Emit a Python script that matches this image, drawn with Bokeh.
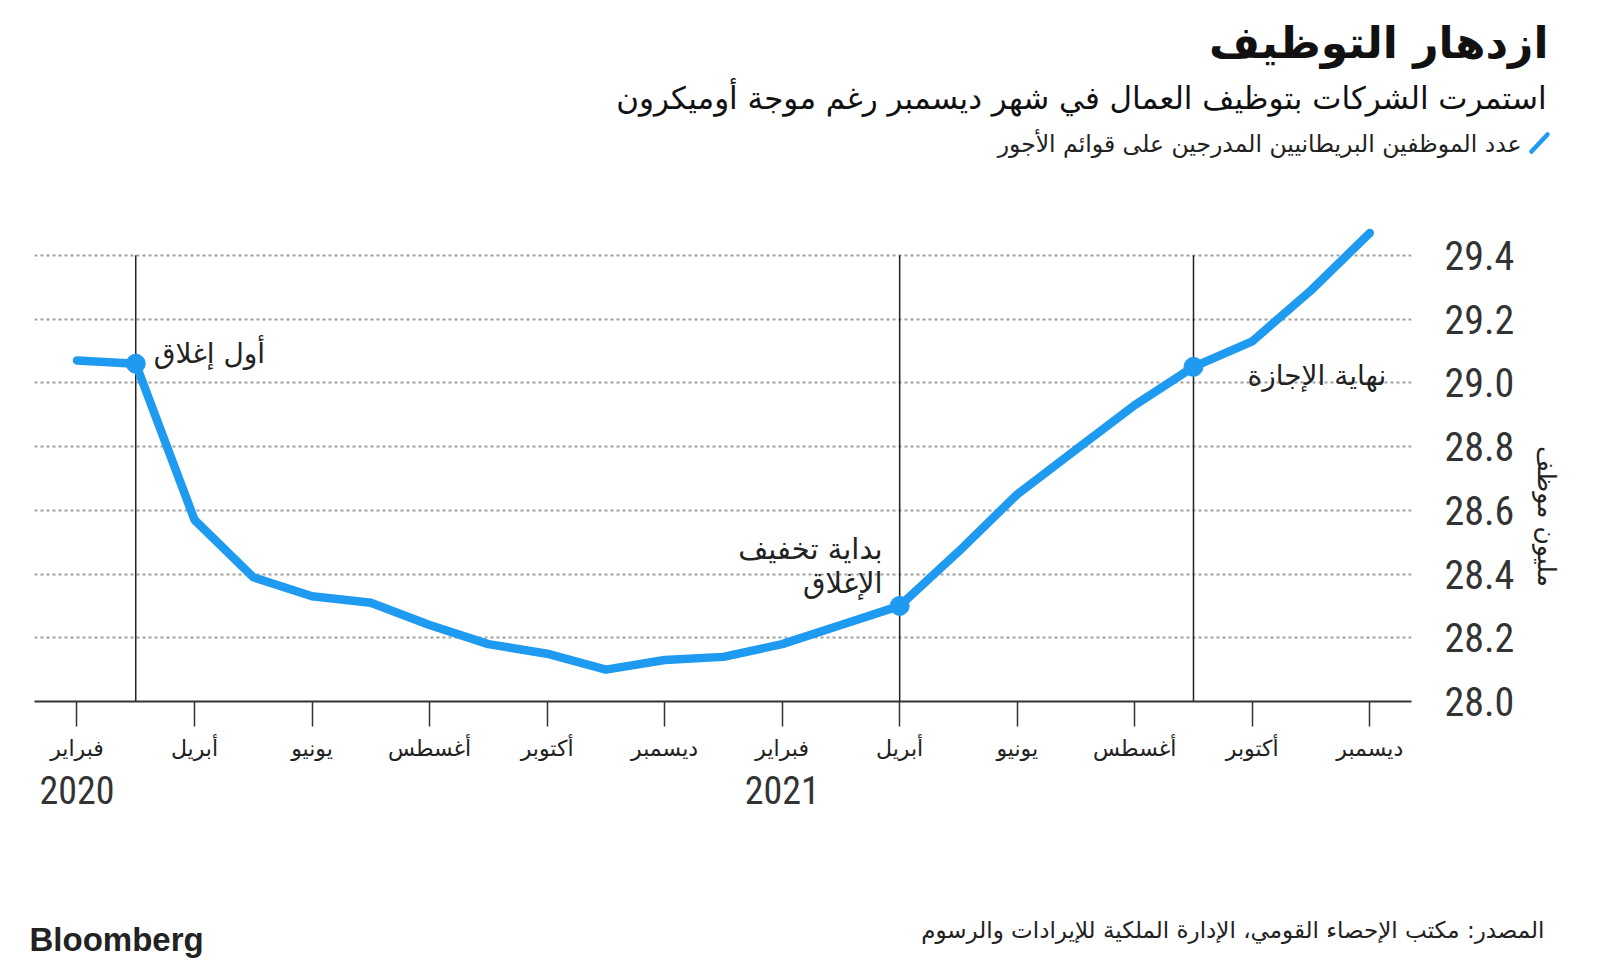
import math
from bokeh.plotting import figure
from bokeh.models import Range1d, FixedTicker, LinearAxis, Label
from bokeh.layouts import column, row
from bokeh.embed import file_html
from bokeh.resources import INLINE

# ---------------- data ----------------
month_names = ["فبراير", "أبريل", "يونيو", "أغسطس", "أكتوبر", "ديسمبر"]
tick_idx = list(range(0, 23, 2))
tick_labels = month_names * 2
year_idx = [0, 12]
year_labels = ["2020", "2021"]
employees = [29.07, 29.06, 28.57, 28.39, 28.33, 28.31, 28.24, 28.18, 28.15, 28.10, 28.13, 28.14,
             28.18, 28.24, 28.30, 28.47, 28.65, 28.79, 28.93, 29.05, 29.13, 29.29, 29.47]
month_idx = list(range(len(employees)))
event_idx = [1, 14, 19]
y_ticks = [28.0, 28.2, 28.4, 28.6, 28.8, 29.0, 29.2, 29.4]
y_tick_labels = ["28.0", "28.2", "28.4", "28.6", "28.8", "29.0", "29.2", "29.4"]

title = "ازدهار التوظيف"
subtitle = "استمرت الشركات بتوظيف العمال في شهر ديسمبر رغم موجة أوميكرون"
legend_text = "عدد الموظفين البريطانيين المدرجين على قوائم الأجور"
y_title = "مليون موظف"
source = "المصدر: مكتب الإحصاء القومي، الإدارة الملكية للإيرادات والرسوم"
brand = "Bloomberg"
ann1 = "أول إغلاق"
ann2a = "بداية تخفيف"
ann2b = "الإغلاق"
ann3 = "نهاية الإجازة"

BLUE = "#1e9bf0"
DARK = "#222222"
AR = "DejaVu Sans"
NUM = "'Liberation Sans Narrow', 'Roboto Condensed', Roboto"

TOTAL_W = 1584


def blank(width, height):
    f = figure(width=width, height=height, output_backend="svg", toolbar_location=None,
               x_range=Range1d(0, width), y_range=Range1d(height, 0),
               x_axis_type=None, y_axis_type=None,
               min_border=0, min_border_left=0, min_border_right=0,
               min_border_top=0, min_border_bottom=0)
    f.outline_line_color = None
    f.xgrid.visible = False
    f.ygrid.visible = False
    f.background_fill_color = "white"
    f.border_fill_color = "white"
    return f


# ---------------- header ----------------
hdr = blank(TOTAL_W, 200)
hdr.add_layout(Label(x=1548, y=42, text=title, text_align="right", text_baseline="middle",
                     text_font=AR, text_font_style="bold", text_font_size="44px", text_color="#111111"))
hdr.add_layout(Label(x=1546, y=97, text=subtitle, text_align="right", text_baseline="middle",
                     text_font=AR, text_font_size="31px", text_color="#111111"))
hdr.add_layout(Label(x=1521, y=143, text=legend_text, text_align="right", text_baseline="middle",
                     text_font=AR, text_font_size="23.5px", text_color=DARK))
hdr.segment(x0=[1531], y0=[151], x1=[1547], y1=[134], line_color=BLUE, line_width=4.5, line_cap="round")

# ---------------- main chart ----------------
MAIN_W, MAIN_H = 1520, 660
p = figure(width=MAIN_W, height=MAIN_H, output_backend="svg", toolbar_location=None,
           x_range=Range1d(-0.723, 22.71), y_range=Range1d(28.0, 29.55),
           y_axis_location="right",
           min_border_left=34, min_border_right=109, min_border_top=7, min_border_bottom=159)
p.outline_line_color = None
p.background_fill_color = "white"
p.border_fill_color = "white"

p.xgrid.visible = False
p.ygrid.ticker = FixedTicker(ticks=y_ticks)
p.ygrid.grid_line_color = "#a0a0a0"
p.ygrid.grid_line_width = 2
p.ygrid.grid_line_dash = "3 3"

xa = p.xaxis[0]
xa.ticker = FixedTicker(ticks=tick_idx)
xa.major_label_overrides = {t: l for t, l in zip(tick_idx, tick_labels)}
xa.axis_line_color = "#333333"
xa.axis_line_width = 2
xa.major_tick_out = 25
xa.major_tick_in = 0
xa.major_tick_line_color = "#333333"
xa.major_tick_line_width = 1.5
xa.minor_tick_line_color = None
xa.major_label_text_font = AR
xa.major_label_text_font_size = "22px"
xa.major_label_text_color = DARK
xa.major_label_standoff = 9

ya2 = LinearAxis(ticker=FixedTicker(ticks=year_idx),
                 major_label_overrides={t: l for t, l in zip(year_idx, year_labels)},
                 axis_line_color=None, major_tick_line_color=None, minor_tick_line_color=None,
                 major_tick_out=0, major_tick_in=0,
                 major_label_text_font=NUM, major_label_text_font_size="38px",
                 major_label_text_color="#333333", major_label_standoff=12)
p.add_layout(ya2, "below")

ya = p.yaxis[0]
ya.ticker = FixedTicker(ticks=y_ticks)
ya.major_label_overrides = {t: l for t, l in zip(y_ticks, y_tick_labels)}
ya.axis_line_color = None
ya.major_tick_line_color = None
ya.minor_tick_line_color = None
ya.major_tick_out = 0
ya.major_tick_in = 0
ya.major_label_standoff = 33
ya.major_label_text_font = NUM
ya.major_label_text_font_size = "40px"
ya.major_label_text_color = "#333333"

p.segment(x0=event_idx, y0=[y_ticks[0]] * len(event_idx), x1=event_idx,
          y1=[y_ticks[-1]] * len(event_idx), line_color=DARK, line_width=1.5)

p.line(month_idx, employees, line_color=BLUE, line_width=8.5, line_join="round", line_cap="round")
p.scatter(event_idx, [employees[i] for i in event_idx], size=19, fill_color=BLUE, line_color=BLUE)


def lab(fig, **kw):
    fig.add_layout(Label(**kw))


lab(p, x=event_idx[0], y=employees[event_idx[0]], text=ann1, x_offset=18, y_offset=10,
    text_align="left", text_baseline="middle", text_font=AR, text_font_size="28px", text_color=DARK)
lab(p, x=event_idx[1], y=employees[event_idx[1]], text=ann2a, x_offset=-17, y_offset=57,
    text_align="right", text_baseline="middle", text_font=AR, text_font_size="29px", text_color=DARK)
lab(p, x=event_idx[1], y=employees[event_idx[1]], text=ann2b, x_offset=-17, y_offset=23,
    text_align="right", text_baseline="middle", text_font=AR, text_font_size="29px", text_color=DARK)
lab(p, x=event_idx[2], y=employees[event_idx[2]], text=ann3, x_offset=54, y_offset=-9,
    text_align="left", text_baseline="middle", text_font=AR, text_font_size="28px", text_color=DARK)

# ---------------- side (y title) ----------------
side = blank(TOTAL_W - MAIN_W, MAIN_H)
side.add_layout(Label(x=26, y=413, text=y_title, text_align="center", text_baseline="middle",
                      angle=-math.pi / 2, text_font=AR, text_font_size="25px", text_color=DARK))

# ---------------- footer ----------------
ftr = blank(TOTAL_W, 103)
ftr.add_layout(Label(x=1544, y=69, text=source, text_align="right", text_baseline="middle",
                     text_font=AR, text_font_size="23px", text_color=DARK))
ftr.add_layout(Label(x=29, y=79, text=brand, text_align="left", text_baseline="middle",
                     text_font="Liberation Sans", text_font_style="bold",
                     text_font_size="33px", text_color="#222222"))

layout = column(hdr, row(p, side), ftr)
open("out.html", "w").write(file_html(layout, INLINE))
